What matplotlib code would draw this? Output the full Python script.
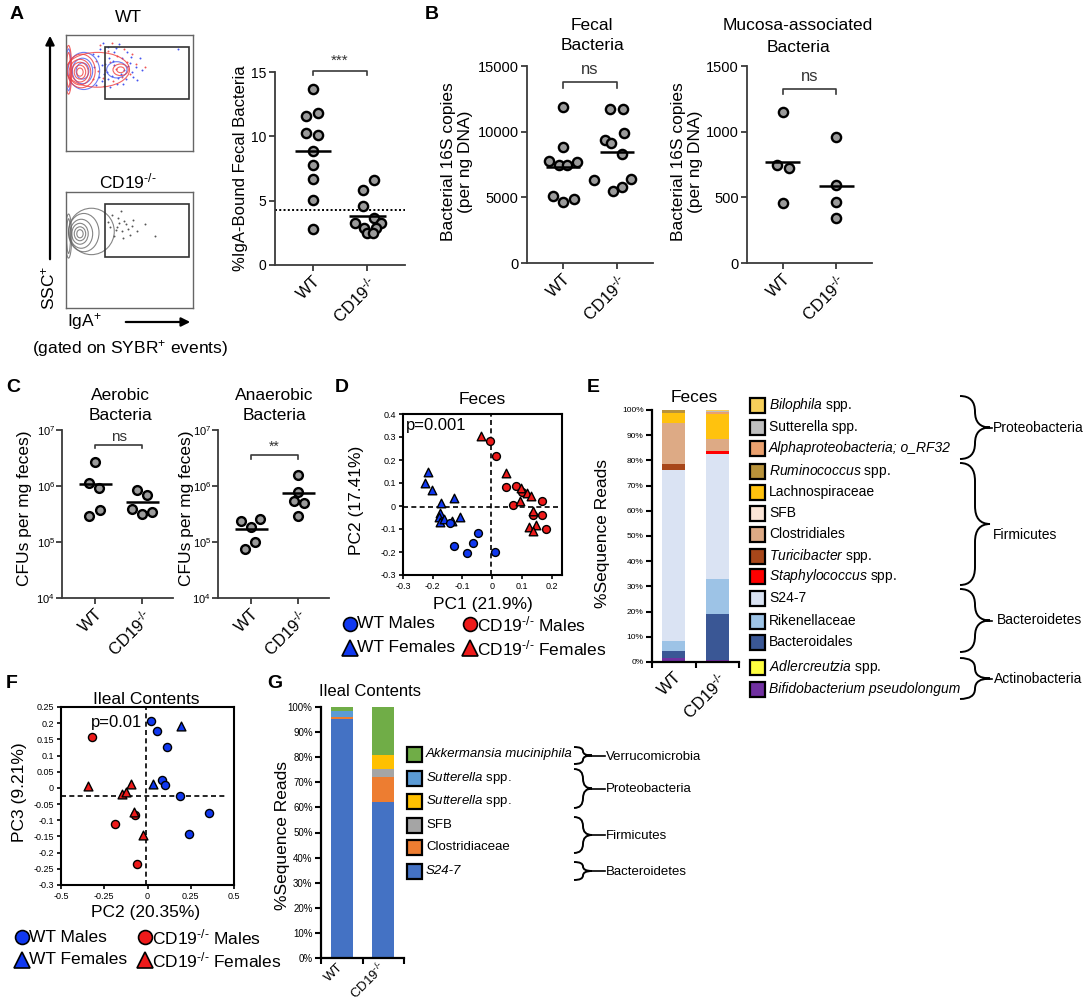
import matplotlib
matplotlib.use("Agg")
import matplotlib.pyplot as plt
from matplotlib.patches import Rectangle, Ellipse, PathPatch
from matplotlib.path import Path
from matplotlib.ticker import NullLocator
import numpy as np

plt.rcParams['font.family'] = ['Liberation Sans', 'DejaVu Sans']
plt.rcParams['mathtext.fontset'] = 'custom'
plt.rcParams['mathtext.rm'] = 'Liberation Sans'
plt.rcParams['mathtext.it'] = 'Liberation Sans:italic'
plt.rcParams['mathtext.bf'] = 'Liberation Sans:bold'

# ---------------- DATA ----------------
KO = 'CD19$^{\\text{-/-}}$'
groups = ['WT', KO]

# A: %IgA-bound fecal bacteria
a_wt = [13.65, 11.56, 11.84, 10.27, 10.1, 8.84, 7.76, 6.72, 5.04, 2.77]
a_ko = [6.6, 5.8, 4.6, 3.67, 3.3, 3.3, 2.9, 2.9, 2.5, 2.5]
a_wt_jit = [0, -0.12, 0.1, -0.12, 0.1, 0, 0, 0, 0, 0]
a_ko_jit = [0.13, -0.08, -0.08, 0.12, -0.22, 0.25, -0.06, 0.17, 0.0, 0.1]
a_medians = [8.84, 3.8]
a_cutoff = 4.3

# B: 16S copies
b_fec_wt = [11890, 8800, 7766, 7487, 7487, 7715, 5135, 4654, 4857]
b_fec_ko = [11763, 11763, 9916, 9359, 9106, 8297, 6324, 5489, 5767, 6400]
b_fec_wt_jit = [0, 0, -0.27, -0.08, 0.07, 0.26, -0.19, 0, 0.21]
b_fec_ko_jit = [-0.12, 0.12, 0.14, -0.22, -0.11, 0.1, -0.42, -0.08, 0.1, 0.26]
b_fec_medians = [7336, 8423]
b_muc_wt = [1146, 746, 721, 455]
b_muc_ko = [961, 594, 465, 339]
b_muc_wt_jit = [0, -0.1, 0.12, 0]
b_muc_ko_jit = [0, 0, 0, 0]
b_muc_medians = [766, 589]

# C: CFUs per mg feces
c_aer_wt = [2.73e6, 1.15e6, 9.4e5, 3.75e5, 2.97e5]
c_aer_ko = [8.5e5, 6.9e5, 3.9e5, 3.1e5, 3.4e5]
c_aer_wt_jit = [0, -0.12, 0.09, 0.1, -0.12]
c_aer_ko_jit = [-0.12, 0.09, -0.22, -0.01, 0.21]
c_aer_medians = [1.09e6, 5.1e5]
c_ana_wt = [2.39e5, 2.6e5, 1.82e5, 1.02e5, 7.6e4]
c_ana_ko = [1.58e6, 7.9e5, 5.4e5, 4.9e5, 2.97e5]
c_ana_wt_jit = [-0.22, 0.19, 0, 0.09, -0.13]
c_ana_ko_jit = [0, 0, -0.1, 0.12, 0]
c_ana_medians = [1.72e5, 7.4e5]

# D: PCoA feces
d_wtm_x = [-0.143, -0.128, -0.083, -0.064, -0.046, 0.008]
d_wtm_y = [-0.075, -0.174, -0.206, -0.159, -0.119, -0.201]
d_wtf_x = [-0.216, -0.227, -0.204, -0.172, -0.129, -0.176, -0.179, -0.176, -0.163, -0.135, -0.107]
d_wtf_y = [0.149, 0.099, 0.070, 0.014, 0.036, -0.029, -0.049, -0.068, -0.058, -0.064, -0.049]
d_kom_x = [-0.006, 0.012, 0.045, 0.08, 0.102, 0.071, 0.169, 0.139, 0.167, 0.18]
d_kom_y = [0.283, 0.219, 0.081, 0.088, 0.061, 0.004, 0.020, -0.041, -0.041, -0.099]
d_kof_x = [-0.038, 0.047, 0.097, 0.116, 0.130, 0.093, 0.138, 0.125, 0.147, 0.138]
d_kof_y = [0.304, 0.145, 0.077, 0.055, 0.045, 0.022, -0.020, -0.090, -0.081, -0.109]

# F: PCoA ileal contents
f_wtm_x = [0.019, 0.056, 0.11, 0.085, 0.1, 0.19, 0.356, 0.238]
f_wtm_y = [0.206, 0.175, 0.127, 0.024, 0.01, -0.024, -0.078, -0.142]
f_wtf_x = [0.196, 0.033]
f_wtf_y = [0.192, 0.012]
f_kom_x = [-0.319, -0.185, -0.073, -0.058]
f_kom_y = [0.156, -0.112, -0.083, -0.235]
f_kof_x = [-0.342, -0.15, -0.125, -0.096, -0.077, -0.025]
f_kof_y = [0.006, -0.018, -0.014, 0.012, -0.073, -0.147]

# E: feces taxa (legend order, top to bottom)
e_taxa = ['$\\mathit{Bilophila}$ spp.', 'Sutterella spp.',
          'Alphaproteobacteria; o_RF32',
          '$\\mathit{Ruminococcus}$ spp.', 'Lachnospiraceae', 'SFB', 'Clostridiales',
          '$\\mathit{Turicibacter}$ spp.', '$\\mathit{Staphylococcus}$ spp.', 'S24-7',
          'Rikenellaceae', 'Bacteroidales', '$\\mathit{Adlercreutzia}$ spp.',
          'Bifidobacterium pseudolongum']
e_wt = [0, 0, 0, 1.3, 3.7, 0, 16.3, 2.7, 0, 67.8, 3.8, 2.9, 0, 1.5]
e_ko = [0.5, 0.4, 0.6, 0, 10.0, 0, 4.6, 0.3, 1.1, 49.6, 13.9, 18.2, 0, 0.8]
e_colors = ['#F7D05A', '#BFBFBF', '#E9A06E', '#B8923A', '#FFC20E', '#FBE5D6', '#DDAA85',
            '#A8471A', '#FF0000', '#DAE3F3', '#9DC3E6', '#3A5795', '#FFFF40', '#7030A0']
e_phyla = ['Proteobacteria', 'Firmicutes', 'Bacteroidetes', 'Actinobacteria']

# G: ileal taxa (legend order, top to bottom)
g_taxa = ['Akkermansia muciniphila', '$\\mathit{Sutterella}$ spp.',
          '$\\mathit{Sutterella}$ spp.', 'SFB', 'Clostridiaceae', 'S24-7']
g_wt = [1.7, 2.4, 0, 0, 0.8, 95.1]
g_ko = [19.0, 0, 5.7, 3.2, 10.0, 62.1]
g_colors = ['#70AD47', '#5B9BD5', '#FFC000', '#A5A5A5', '#ED7D31', '#4472C4']
g_phyla = ['Verrucomicrobia', 'Proteobacteria', 'Firmicutes', 'Bacteroidetes']

# flow cytometry sketch (contour ellipses: cx, cy, w, h) and events
fl_wt_red = [(0.11, 0.68, 0.05, 0.07), (0.11, 0.68, 0.09, 0.12), (0.11, 0.68, 0.13, 0.17),
             (0.11, 0.68, 0.17, 0.22), (0.12, 0.69, 0.22, 0.29), (0.02, 0.70, 0.03, 0.30),
             (0.02, 0.70, 0.05, 0.42), (0.43, 0.70, 0.06, 0.05), (0.43, 0.70, 0.12, 0.10),
             (0.25, 0.70, 0.50, 0.30)]
fl_wt_blue = [(0.13, 0.69, 0.10, 0.14), (0.13, 0.69, 0.16, 0.22), (0.14, 0.69, 0.25, 0.32),
              (0.40, 0.70, 0.16, 0.14), (0.02, 0.70, 0.04, 0.36)]
fl_wt_bdx = [0.25, 0.28, 0.31, 0.33, 0.36, 0.38, 0.40, 0.44, 0.47, 0.50, 0.52, 0.55, 0.58, 0.22,
             0.27, 0.35, 0.42, 0.48, 0.30, 0.60, 0.38, 0.45, 0.53, 0.26, 0.34, 0.29, 0.41, 0.88,
             0.24, 0.32, 0.37, 0.43, 0.49, 0.56, 0.21, 0.33, 0.46, 0.39, 0.51, 0.28]
fl_wt_bdy = [0.82, 0.60, 0.75, 0.90, 0.65, 0.85, 0.58, 0.80, 0.62, 0.76, 0.68, 0.72, 0.80, 0.72,
             0.88, 0.55, 0.92, 0.85, 0.66, 0.70, 0.74, 0.58, 0.64, 0.64, 0.80, 0.93, 0.63, 0.88,
             0.57, 0.68, 0.78, 0.66, 0.73, 0.61, 0.84, 0.62, 0.70, 0.89, 0.81, 0.74]
fl_wt_rdx = [0.24, 0.29, 0.33, 0.37, 0.46, 0.50, 0.55, 0.31, 0.40, 0.21, 0.52, 0.35, 0.27, 0.62,
             0.44, 0.30, 0.39, 0.25, 0.48, 0.36]
fl_wt_rdy = [0.78, 0.63, 0.86, 0.60, 0.88, 0.66, 0.75, 0.70, 0.82, 0.62, 0.84, 0.77, 0.91, 0.72,
             0.64, 0.56, 0.71, 0.69, 0.77, 0.93]
fl_ko = [(0.11, 0.64, 0.05, 0.07), (0.11, 0.64, 0.09, 0.12), (0.11, 0.64, 0.13, 0.18),
         (0.12, 0.64, 0.18, 0.25), (0.14, 0.65, 0.24, 0.33), (0.02, 0.62, 0.03, 0.30),
         (0.02, 0.62, 0.05, 0.38), (0.20, 0.66, 0.36, 0.40)]
fl_ko_dx = [0.35, 0.38, 0.41, 0.44, 0.47, 0.50, 0.53, 0.40, 0.45, 0.36, 0.49, 0.56, 0.62, 0.43, 0.70,
            0.33, 0.39, 0.46, 0.52, 0.42]
fl_ko_dy = [0.70, 0.62, 0.78, 0.66, 0.72, 0.63, 0.76, 0.70, 0.60, 0.80, 0.68, 0.66, 0.72, 0.84, 0.62,
            0.74, 0.67, 0.75, 0.71, 0.73]

# ---------------- FIGURE ----------------
W, H = 1084, 1006
fig = plt.figure(figsize=(W / 100, H / 100), dpi=100)


def axp(x0, y0, x1, y1, **kw):
    return fig.add_axes([x0 / W, 1 - y1 / H, (x1 - x0) / W, (y1 - y0) / H], **kw)


def ft(x, y, s, **kw):
    kw.setdefault('ha', 'center')
    kw.setdefault('va', 'center')
    return fig.text(x / W, 1 - y / H, s, **kw)


GREY = '#9b9b9b'
AX = '#3a3a3a'


def style_dot(ax, labelsize=10.5):
    for s in ['top', 'right']:
        ax.spines[s].set_visible(False)
    for s in ['left', 'bottom']:
        ax.spines[s].set_color(AX)
        ax.spines[s].set_linewidth(1.3)
    ax.tick_params(direction='out', length=4, width=1.3, color=AX, labelsize=labelsize, pad=2)
    ax.set_xticks([0, 1])
    ax.set_xticklabels(groups, rotation=45, ha='right', rotation_mode='anchor', fontsize=12)
    ax.set_facecolor('none')


def dots(ax, vals_list, jit_list, medians, half=0.33, s=44):
    for i, (vals, jit) in enumerate(zip(vals_list, jit_list)):
        xs = i + np.array(jit)
        ax.scatter(xs, vals, s=s, c=GREY, edgecolors='black', linewidths=1.7, zorder=3, clip_on=False)
        ax.plot([i - half, i + half], [medians[i], medians[i]], color='black', lw=1.8, zorder=4,
                solid_capstyle='butt')


def bracket(ax, y, dy, ytxt, txt, fs=11):
    ax.plot([0, 0, 1, 1], [dy, y, y, dy], color=AX, lw=1.2, clip_on=False)
    ax.text(0.5, ytxt, txt, ha='center', va='center', fontsize=fs, color='#333')


# ---- A: flow plots ----
def flow(ax, ells, cols, gate, dsets):
    ax.set_xlim(0, 1)
    ax.set_ylim(0, 1)
    ax.set_xticks([])
    ax.set_yticks([])
    for s in ax.spines.values():
        s.set_color('#666')
        s.set_linewidth(1.0)
    for (dx, dy, col) in dsets:
        ax.scatter(dx, dy, s=2, c=col, linewidths=0, alpha=0.9)
    for el, col in zip(ells, cols):
        for (cx, cy, w, h) in el:
            ax.add_patch(Ellipse((cx, cy), w, h, fill=False, edgecolor=col, lw=0.8, alpha=0.8))
    ax.add_patch(Rectangle((gate[0], gate[1]), gate[2], gate[3], fill=False, edgecolor='#333', lw=1.2))


ax_f1 = axp(66, 35, 193, 151)
flow(ax_f1, [fl_wt_blue, fl_wt_red], ['#4a5cf0', '#f03c3c'], (0.31, 0.45, 0.66, 0.45),
     [(fl_wt_bdx, fl_wt_bdy, '#3344ee'), (fl_wt_rdx, fl_wt_rdy, '#ee4444')])
ax_f2 = axp(66, 192, 193, 308)
flow(ax_f2, [fl_ko], ['#666666'], (0.31, 0.44, 0.66, 0.46), [(fl_ko_dx, fl_ko_dy, '#444444')])
ft(128, 17, 'WT', fontsize=12.5)
ft(128, 181, KO, fontsize=12.5)
ft(130, 349, '(gated on SYBR$^{+}$ events)', fontsize=12.5)

# ---- A: dot plot ----
axA = axp(275, 72, 405, 265)
dots(axA, [a_wt, a_ko], [a_wt_jit, a_ko_jit], a_medians, half=0.34)
axA.axhline(a_cutoff, color='black', lw=1.4, ls=(0, (1.0, 1.2)), xmin=0, xmax=1)
axA.set_xlim(-0.7, 1.7)
axA.set_ylim(0, 15)
axA.set_yticks([0, 5, 10, 15])
style_dot(axA, labelsize=10)
bracket(axA, 15.1, 14.75, 15.9, '***', fs=11)
ft(241, 168, '%IgA-Bound Fecal Bacteria', rotation=90, fontsize=12)

# ---- B ----
axB1 = axp(527, 66, 653, 263)
dots(axB1, [b_fec_wt, b_fec_ko], [b_fec_wt_jit, b_fec_ko_jit], b_fec_medians, half=0.31)
axB1.set_xlim(-0.67, 1.67)
axB1.set_ylim(0, 15000)
axB1.set_yticks([0, 5000, 10000, 15000])
style_dot(axB1)
bracket(axB1, 13790, 13350, 14700, 'ns', fs=12)
ft(592, 25, 'Fecal', fontsize=12.5)
ft(592, 46, 'Bacteria', fontsize=12.5)
ft(457, 162, 'Bacterial 16S copies\n(per ng DNA)', rotation=90, fontsize=12.5, linespacing=1.1)

axB2 = axp(747, 66, 872, 263)
dots(axB2, [b_muc_wt, b_muc_ko], [b_muc_wt_jit, b_muc_ko_jit], b_muc_medians, half=0.33)
axB2.set_xlim(-0.67, 1.67)
axB2.set_ylim(0, 1500)
axB2.set_yticks([0, 500, 1000, 1500])
style_dot(axB2)
bracket(axB2, 1328, 1290, 1420, 'ns', fs=12)
ft(798, 25, 'Mucosa-associated', fontsize=12.5)
ft(798, 48, 'Bacteria', fontsize=12.5)
ft(687, 162, 'Bacterial 16S copies\n(per ng DNA)', rotation=90, fontsize=12.5, linespacing=1.1)

# ---- C ----
for (x0, x1, wt, ko, wj, kj, med, title, tx, sig, ylab_x) in [
        (62, 173, c_aer_wt, c_aer_ko, c_aer_wt_jit, c_aer_ko_jit, c_aer_medians,
         ('Aerobic', 'Bacteria'), 120, ('ns', 5.4e6, 4.7e6, 7.6e6), 25),
        (218, 329, c_ana_wt, c_ana_ko, c_ana_wt_jit, c_ana_ko_jit, c_ana_medians,
         ('Anaerobic', 'Bacteria'), 274, ('**', 3.6e6, 3.0e6, 5.0e6), 186)]:
    ax = axp(x0, 430, x1, 598)
    ax.set_yscale('log')
    dots(ax, [wt, ko], [wj, kj], med, half=0.35, s=40)
    ax.set_xlim(-0.7, 1.65)
    ax.set_ylim(1e4, 1e7)
    ax.set_yticks([1e4, 1e5, 1e6, 1e7])
    ax.set_yticklabels(['10$^4$', '10$^5$', '10$^6$', '10$^7$'])
    ax.yaxis.set_minor_locator(NullLocator())
    style_dot(ax, labelsize=8)
    ax.tick_params(axis='y', pad=1)
    ax.plot([0, 0, 1, 1], [sig[2], sig[1], sig[1], sig[2]], color=AX, lw=1.2, clip_on=False)
    ax.text(0.5, sig[3], sig[0], ha='center', va='center', fontsize=11 if sig[0] == 'ns' else 10,
            color='#333')
    ft(tx, 395, title[0], fontsize=12.5)
    ft(tx, 416, title[1], fontsize=12.5)
    ft(ylab_x, 508, 'CFUs per mg feces)', rotation=90, fontsize=12.5)

# ---- PCoA helper ----
BLUE = '#1038f0'
RED = '#ee1a1a'


def pcoa(ax, wm, wf, km, kf, s=32):
    ax.scatter(*wf, marker='^', s=s + 6, c=BLUE, edgecolors='black', linewidths=1.0, zorder=3)
    ax.scatter(*wm, marker='o', s=s, c=BLUE, edgecolors='black', linewidths=1.0, zorder=3)
    ax.scatter(*km, marker='o', s=s, c=RED, edgecolors='black', linewidths=1.0, zorder=3)
    ax.scatter(*kf, marker='^', s=s + 6, c=RED, edgecolors='black', linewidths=1.0, zorder=4)
    for sp in ax.spines.values():
        sp.set_linewidth(1.5)
        sp.set_color('black')
    ax.tick_params(direction='out', length=3, width=1.2, labelsize=6.5, pad=2)


# ---- D ----
axD = axp(403, 414, 562, 575)
axD.axvline(-0.005, color='black', lw=1.2, ls=(0, (3, 2)), zorder=1)
axD.axhline(-0.005, color='black', lw=1.2, ls=(0, (3, 2)), zorder=1)
pcoa(axD, (d_wtm_x, d_wtm_y), (d_wtf_x, d_wtf_y), (d_kom_x, d_kom_y), (d_kof_x, d_kof_y))
axD.set_xlim(-0.3, 0.235)
axD.set_ylim(-0.3, 0.4)
dxt = [-0.3, -0.2, -0.1, 0, 0.1, 0.2]
axD.set_xticks(dxt)
axD.set_xticklabels(['-0.3', '-0.2', '-0.1', '0', '0.1', '0.2'])
dyt = [-0.3, -0.2, -0.1, 0, 0.1, 0.2, 0.3, 0.4]
axD.set_yticks(dyt)
axD.set_yticklabels(['-0.3', '-0.2', '-0.1', '0', '0.1', '0.2', '0.3', '0.4'])
axD.text(-0.29, 0.352, 'p=0.001', fontsize=12, ha='left', va='center')
ft(482, 400, 'Feces', fontsize=12.5)
ft(483, 605, 'PC1 (21.9%)', fontsize=12.5)
ft(357, 500, 'PC2 (17.41%)', rotation=90, fontsize=12.5)

# ---- F ----
axF = axp(61, 707, 234, 885)
axF.axvline(-0.01, color='black', lw=1.2, ls=(0, (3, 2)), zorder=1)
axF.axhline(-0.025, color='black', lw=1.2, ls=(0, (3, 2)), xmax=0.957, zorder=1)
pcoa(axF, (f_wtm_x, f_wtm_y), (f_wtf_x, f_wtf_y), (f_kom_x, f_kom_y), (f_kof_x, f_kof_y), s=34)
axF.set_xlim(-0.5, 0.5)
axF.set_ylim(-0.3, 0.25)
axF.set_xticks([-0.5, -0.25, 0, 0.25, 0.5])
axF.set_xticklabels(['-0.5', '-0.25', '0', '0.25', '0.5'])
fyt = [0.25, 0.2, 0.15, 0.1, 0.05, 0, -0.05, -0.1, -0.15, -0.2, -0.25, -0.3]
axF.set_yticks(fyt)
axF.set_yticklabels(['0.25', '0.2', '0.15', '0.1', '0.05', '0', '-0.05', '-0.1', '-0.15',
                     '-0.2', '-0.25', '-0.3'])
axF.text(-0.325, 0.203, 'p=0.01', fontsize=12, ha='left', va='center', zorder=2)
ft(146, 699, 'Ileal Contents', fontsize=12.5)
ft(146, 913, 'PC2 (20.35%)', fontsize=12.5)
ft(20, 792, 'PC3 (9.21%)', rotation=90, fontsize=12.5)


# ---- stacked bars ----
def stacked(ax, wt, ko, colors, labelsize, xfs, xpad, xva='top'):
    n = len(wt)
    bw, bk = 0.0, 0.0
    for i in range(n - 1, -1, -1):
        ax.bar([0], [wt[i]], bottom=[bw], width=0.53, color=colors[i], linewidth=0)
        ax.bar([1], [ko[i]], bottom=[bk], width=0.53, color=colors[i], linewidth=0)
        bw += wt[i]
        bk += ko[i]
    ax.set_xlim(-0.5, 1.5)
    ax.set_ylim(0, 100)
    for s in ['top', 'right']:
        ax.spines[s].set_visible(False)
    for s in ['left', 'bottom']:
        ax.spines[s].set_linewidth(1.6)
        ax.spines[s].set_color('black')
    ax.set_yticks(range(0, 101, 10))
    ax.set_yticklabels(['%d%%' % v for v in range(0, 101, 10)])
    ax.set_xticks([-0.5, 0.5, 1.5])
    ax.set_xticklabels([])
    ax.set_xticks([0, 1], minor=True)
    ax.set_xticklabels(groups, minor=True, rotation=45, ha='right', va=xva,
                       rotation_mode='anchor', fontsize=xfs)
    ax.tick_params(axis='x', which='minor', length=0, pad=xpad)
    ax.tick_params(axis='both', which='major', direction='out', length=4, width=1.5,
                   labelsize=labelsize, pad=2)


axE = axp(652, 410, 739, 662)
stacked(axE, e_wt, e_ko, e_colors, 6, 12, 5)
ft(694, 397, 'Feces', fontsize=12.5)
ft(603, 533, '%Sequence Reads', rotation=90, fontsize=12.5)

axG = axp(321, 707, 404, 958)
stacked(axG, g_wt, g_ko, g_colors, 7, 9.5, 5, xva='center')
ft(319, 692, 'Ileal Contents', fontsize=12, ha='left')
ft(283, 835, '%Sequence Reads', rotation=90, fontsize=12.5)

# ---------------- overlay ----------------
ov = fig.add_axes([0, 0, 1, 1], zorder=10)
ov.set_xlim(0, W)
ov.set_ylim(H, 0)
ov.axis('off')
ov.patch.set_visible(False)

for (lx, ly, lt) in [(17, 14, 'A'), (432, 14, 'B'), (13, 387, 'C'), (342, 388, 'D'),
                     (593, 388, 'E'), (12, 683, 'F'), (275, 684, 'G')]:
    ov.text(lx, ly, lt, fontsize=14, fontweight='bold', ha='center', va='center')

# flow axes arrows
ov.annotate('', xy=(50, 33), xytext=(50, 262),
            arrowprops=dict(arrowstyle='-|>', color='black', lw=1.6, mutation_scale=13))
ov.text(48, 288, 'SSC$^{+}$', rotation=90, fontsize=12.5, ha='center', va='center')
ov.text(67, 322, 'IgA$^{+}$', fontsize=12.5, ha='left', va='center')
ov.annotate('', xy=(193, 322), xytext=(123, 322),
            arrowprops=dict(arrowstyle='-|>', color='black', lw=1.6, mutation_scale=13))


def legend_pcoa(x1, x2, y1, y2, ms=10):
    ov.plot([x1], [y1], 'o', ms=ms, mfc=BLUE, mec='black', mew=1.2, clip_on=False)
    ov.text(x1 + 7, y1, 'WT Males', fontsize=12.5, ha='left', va='center')
    ov.plot([x2], [y1], 'o', ms=ms, mfc=RED, mec='black', mew=1.2, clip_on=False)
    ov.text(x2 + 7, y1, KO + ' Males', fontsize=12.5, ha='left', va='center')
    ov.plot([x1], [y2], '^', ms=ms + 1, mfc=BLUE, mec='black', mew=1.2, clip_on=False)
    ov.text(x1 + 7, y2, 'WT Females', fontsize=12.5, ha='left', va='center')
    ov.plot([x2], [y2], '^', ms=ms + 1, mfc=RED, mec='black', mew=1.2, clip_on=False)
    ov.text(x2 + 7, y2, KO + ' Females', fontsize=12.5, ha='left', va='center')


legend_pcoa(350, 470, 624, 648)
legend_pcoa(22, 145, 937, 960)


def brace(x, y0, y1, w, line_to=None, lw=1.4):
    ym = (y0 + y1) / 2.0
    xm = x + w * 0.5
    r = min((y1 - y0) / 4.0, w * 0.6)
    verts = [(x, y0), (xm, y0), (xm, y0 + r), (xm, ym - r), (xm, ym), (x + w, ym),
             (xm, ym), (xm, ym + r), (xm, y1 - r), (xm, y1), (x, y1)]
    codes = [Path.MOVETO, Path.CURVE3, Path.CURVE3, Path.LINETO, Path.CURVE3, Path.CURVE3,
             Path.CURVE3, Path.CURVE3, Path.LINETO, Path.CURVE3, Path.CURVE3]
    ov.add_patch(PathPatch(Path(verts, codes), fill=False, edgecolor='black', lw=lw))
    if line_to is not None:
        ov.plot([x + w, line_to], [ym, ym], color='black', lw=1.2)
    return ym


ITALIC_FULL = {'Alphaproteobacteria; o_RF32', 'Bifidobacterium pseudolongum',
               'Akkermansia muciniphila'}

# E legend
e_rows = [405, 427, 448, 471, 492, 513, 534, 556, 576, 598, 621, 642, 667, 689]
for yc, lab, col in zip(e_rows, e_taxa, e_colors):
    ov.add_patch(Rectangle((750, yc - 7.5), 15, 15, facecolor=col, edgecolor='black', lw=1.6))
    ov.text(769, yc, lab, fontsize=10, ha='left', va='center',
            fontstyle='italic' if lab in ITALIC_FULL else 'normal')
for (y0, y1, lx, ly), ph in zip([(396, 459, 992, 428), (463, 585, 992, 535),
                                 (589, 652, 996, 620), (658, 699, 993, 679)], e_phyla):
    brace(960, y0, y1, 30, line_to=992 if ph != 'Firmicutes' else None)
    ov.text(lx + 1, ly, ph, fontsize=10, ha='left', va='center')

# G legend
g_rows = [754, 778, 801, 825, 847, 871]
for k, (yc, lab, col) in enumerate(zip(g_rows, g_taxa, g_colors)):
    ov.add_patch(Rectangle((407, yc - 7.5), 15, 15, facecolor=col, edgecolor='black', lw=1.6))
    ital = lab in ITALIC_FULL or k == len(g_taxa) - 1
    ov.text(426, yc, lab, fontsize=9.5, ha='left', va='center',
            fontstyle='italic' if ital else 'normal')
for (y0, y1), ph in zip([(747, 764), (769, 808), (817, 853), (862, 880)], g_phyla):
    ym = brace(574, y0, y1, 18, line_to=605)
    ov.text(606, ym + 1, ph, fontsize=9.5, ha='left', va='center')

fig.savefig('out.png', dpi=100)
